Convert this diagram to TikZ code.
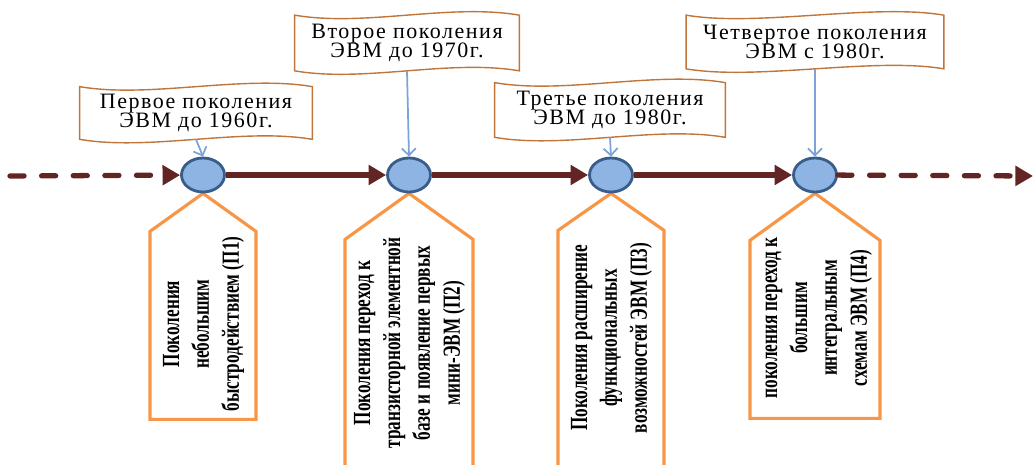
\documentclass[tikz,border=0pt]{standalone}
\usepackage{fontspec}
\setmainfont{Liberation Serif}
\newfontfamily\capfont[LetterSpace=7]{Liberation Serif}
\usepackage{graphicx}
\usetikzlibrary{positioning,calc,shapes.geometric,arrows.meta,backgrounds}

\definecolor{linered}{HTML}{632523}
\definecolor{markfill}{HTML}{8EB4E3}
\definecolor{markdraw}{HTML}{385D8A}
\definecolor{boxorange}{HTML}{F79646}
\definecolor{waveline}{HTML}{C0753A}
\definecolor{pointblue}{HTML}{7BA3D8}

\tikzset{
  timeline/.style={draw=linered, line width=3pt, -{Triangle[length=10pt,width=11pt]}},
  futureline/.style={timeline, dash pattern=on 8pt off 10pt, line cap=round},
  genmark/.style={ellipse, draw=markdraw, fill=markfill, line width=1.6pt,
    minimum width=0.86cm, minimum height=0.68cm, inner sep=0pt},
  capnode/.style={inner sep=0pt, align=center, font=\capfont\fontsize{12.5}{11}\selectfont},
  capframe/.style={draw=waveline, line width=0.8pt},
  pointer/.style={draw=pointblue, line width=1pt, -{Straight Barb[length=4pt,width=8pt]}},
  genbox/.style={draw=boxorange, line width=1.8pt, line join=miter},
  gentext/.style={rotate=90, inner sep=0pt, font=\bfseries\fontsize{14}{17}\selectfont},
}

\newcommand{\waveframe}[1]{\draw[capframe] (#1.north west) .. controls +(70,12) and +(-70,-12) .. (#1.north east)
  -- (#1.south east) .. controls +(-70,-12) and +(70,12) .. (#1.south west) -- cycle;}
\newcommand{\genlines}[1]{\scalebox{0.7}[1]{\begin{tabular}{@{}c@{}}#1\end{tabular}}}

\begin{document}
\begin{tikzpicture}[x=0.02cm, y=-0.02cm]
\useasboundingbox (0,0) rectangle (1034,465);

% generations on the time axis
\node (n1) [genmark] at (203,175) {};
\node (n2) [genmark] at (409,175) {};
\node (n3) [genmark] at (611,175) {};
\node (n4) [genmark] at (815,175) {};
\coordinate (past) at (10,176);
\coordinate (future) at (1033,176);

\draw[futureline] (past) -- (n1);
\draw[timeline] (n1) -- (n2);
\draw[timeline] (n2) -- (n3);
\draw[timeline] (n3) -- (n4);
\draw[futureline] (n4) -- (future);

% captions above
\node (c1) [capnode, minimum width=4.64cm, minimum height=1.04cm] at (196,113) {Первое поколения\\ЭВМ до 1960г.};
\node (c2) [capnode, minimum width=4.48cm, minimum height=1.10cm] at (407,43) {Второе поколения\\ЭВМ до 1970г.};
\node (c3) [capnode, minimum width=4.60cm, minimum height=1.08cm] at (610,110) {Третье поколения\\ЭВМ до 1980г.};
\node (c4) [capnode, minimum width=5.14cm, minimum height=1.06cm] at (815,42) {Четвертое поколения\\ЭВМ с 1980г.};
\waveframe{c1}
\waveframe{c2}
\waveframe{c3}
\waveframe{c4}
\draw[pointer] (c1.south) -- (n1.north);
\draw[pointer] (c2.south) -- (n2.north);
\draw[pointer] (c3.south) -- (n3.north);
\draw[pointer] (c4.south) -- (n4.north);

% descriptions below
\node (t1) [gentext] at (203,324) {\genlines{Поколения\\небольшим\\быстродействием (П1)}};
\node (t2) [gentext] at (409,343) {\genlines{Поколения переход к\\транзисторной элементной\\базе и появление первых\\мини-ЭВМ (П2)}};
\node (t3) [gentext] at (611,338) {\genlines{Поколения расширение\\функциональных\\возможностей ЭВМ (П3)}};
\node (t4) [gentext] at (816,318) {\genlines{поколения переход к\\большим\\интегральным\\схемам ЭВМ (П4)}};

\begin{scope}[on background layer]
\draw[genbox] (n1.south) -- ++(53,38) -- ++(0,188) -- ++(-106,0) -- ++(0,-188) -- cycle;
\draw[genbox] (n2.south) -- ++(64,46) -- ++(0,250) -- ++(-128,0) -- ++(0,-250) -- cycle;
\draw[genbox] (n3.south) -- ++(53,37) -- ++(0,250) -- ++(-106,0) -- ++(0,-250) -- cycle;
\draw[genbox] (n4.south) -- ++(65,47) -- ++(0,178) -- ++(-130,0) -- ++(0,-178) -- cycle;
\end{scope}
\end{tikzpicture}
\end{document}
